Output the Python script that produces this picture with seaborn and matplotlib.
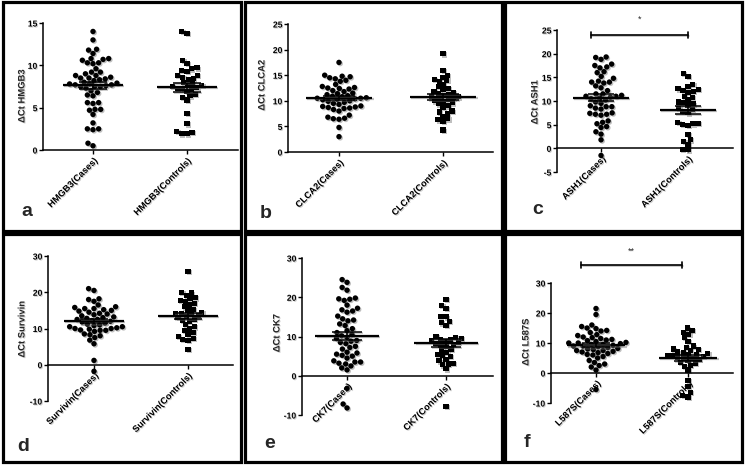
import numpy as np
import pandas as pd
import matplotlib
matplotlib.use("Agg")
import matplotlib.pyplot as plt
import matplotlib.patheffects as pe
import seaborn as sns
from matplotlib.patches import Rectangle

# ---------------- data ----------------
genes = ["HMGB3", "CLCA2", "ASH1", "Survivin", "CK7", "L587S"]
letters = ["a", "b", "c", "d", "e", "f"]

hmgb3_cases = [14.0, 13.0, 11.9, 11.8, 11.4, 10.8, 10.6, 10.3, 10.3, 10.7, 10.8, 10.2,
               9.6, 9.2, 9.2, 9.0, 8.8, 8.8, 8.6, 8.5, 8.5, 8.4, 8.3, 8.2, 8.0, 7.9,
               7.8, 7.8, 7.7, 7.7, 7.6, 7.5, 7.5, 7.5, 7.3, 7.0, 6.8, 6.5, 6.4, 5.6,
               5.6, 5.5, 4.8, 4.8, 4.7, 4.2, 3.2, 2.5, 2.4, 2.5, 0.8, 0.5]
hmgb3_controls = [14.0, 13.8, 10.6, 10.2, 9.6, 9.4, 9.3, 9.7, 8.8, 8.8, 8.6, 8.4, 8.3,
                  8.0, 7.8, 7.6, 7.6, 7.5, 7.4, 7.3, 7.3, 7.2, 6.9, 6.6, 6.4, 6.2,
                  5.9, 4.3, 3.1, 2.2, 2.1, 1.9, 1.9]

clca2_cases = [17.5, 15.0, 14.8, 14.7, 14.5, 14.3, 14.0, 13.8, 13.2, 12.8, 12.6, 12.5,
               12.4, 12.3, 12.0, 11.8, 11.5, 11.4, 11.2, 11.0, 10.9, 10.8, 10.6, 10.5,
               10.5, 10.4, 10.3, 10.2, 10.0, 9.9, 9.7, 9.5, 9.3, 9.0, 8.9, 8.8, 8.7,
               8.6, 8.5, 8.3, 8.0, 7.2, 6.8, 6.6, 6.5, 6.4, 4.8, 3.0]
clca2_controls = [19.2, 16.0, 15.0, 14.6, 14.2, 14.0, 13.8, 13.2, 12.8, 12.4, 12.2, 11.8,
                  11.6, 11.4, 11.2, 11.0, 10.8, 10.8, 10.6, 10.4, 10.2, 10.0, 9.8, 9.6,
                  9.4, 9.0, 8.8, 8.0, 7.8, 7.5, 7.0, 6.5, 6.3, 6.0, 4.3]

ash1_cases = [19.3, 19.2, 18.8, 17.8, 17.5, 17.2, 17.0, 16.2, 16.0, 15.2, 14.8, 14.2,
              14.0, 14.0, 13.8, 13.2, 12.8, 12.2, 11.5, 11.5, 11.2, 11.0, 11.0, 10.8,
              10.6, 10.5, 10.2, 9.8, 9.5, 9.0, 8.8, 8.8, 8.5, 8.3, 7.5, 7.4, 7.2, 7.2,
              7.0, 5.8, 5.5, 5.2, 4.6, 4.4, 3.5, 3.0, 1.8, -1.5]
ash1_controls = [15.8, 15.2, 13.5, 13.0, 12.6, 12.4, 12.2, 12.0, 11.8, 11.0, 10.8, 10.2,
                 9.8, 9.6, 9.4, 9.0, 8.5, 8.2, 7.8, 7.5, 5.5, 5.3, 5.2, 5.0, 4.8, 3.0,
                 1.8, 1.5, 0.8, -0.2, -0.3]

survivin_cases = [21.0, 20.5, 18.2, 18.0, 17.5, 16.5, 16.0, 15.8, 15.5, 15.5, 15.2, 15.0,
                  14.8, 14.5, 14.2, 14.0, 13.8, 13.5, 13.2, 13.0, 12.8, 12.5, 12.5, 12.2,
                  12.0, 11.8, 11.5, 11.2, 11.0, 10.8, 10.5, 10.5, 10.2, 10.0, 10.0, 9.8,
                  9.6, 9.5, 9.5, 9.2, 8.5, 8.3, 8.0, 7.5, 6.8, 5.8, 1.2, -1.8]
survivin_controls = [25.8, 20.0, 19.8, 19.2, 18.5, 18.2, 17.8, 17.5, 17.0, 16.5, 16.0,
                     15.2, 15.0, 14.5, 14.2, 14.0, 13.8, 13.5, 13.2, 13.0, 12.5, 12.2,
                     12.0, 11.0, 10.5, 10.0, 9.5, 9.0, 8.5, 7.8, 7.2, 7.0, 6.8, 4.2]

ck7_cases = [24.5, 23.8, 22.5, 21.8, 19.8, 19.6, 19.5, 19.2, 18.0, 17.2, 16.8, 16.5,
             16.2, 15.2, 14.5, 14.2, 14.0, 13.2, 12.8, 12.0, 11.5, 11.0, 10.5, 10.2,
             9.8, 9.5, 9.0, 8.8, 8.5, 8.2, 7.5, 7.2, 6.8, 6.0, 5.8, 5.5, 5.2, 5.0, 4.5,
             3.8, 3.5, 3.5, 3.2, 3.0, 2.5, 2.0, 1.5, -3.2, -7.2, -8.2]
ck7_controls = [19.5, 18.0, 17.2, 15.2, 15.0, 13.8, 13.5, 12.8, 10.0, 9.8, 9.5, 9.2, 9.2,
                9.0, 8.8, 8.5, 8.2, 8.0, 7.8, 7.5, 6.8, 6.5, 6.0, 5.5, 5.2, 5.0, 4.2,
                3.8, 3.2, 3.0, 2.8, 1.8, -7.8]

l587s_cases = [21.5, 19.5, 16.0, 15.5, 15.0, 14.8, 14.2, 14.0, 13.5, 12.8, 12.5, 12.0,
               11.8, 11.5, 11.2, 11.0, 10.8, 10.5, 10.2, 10.0, 10.0, 9.8, 9.5, 9.5, 9.2,
               9.0, 9.0, 8.8, 8.5, 8.2, 8.0, 7.8, 7.5, 7.5, 7.2, 7.0, 6.8, 6.5, 6.2, 6.0,
               5.5, 5.0, 4.2, 3.5, 3.0, 2.5, 2.0, 1.0, -5.5]
l587s_controls = [15.0, 14.2, 13.5, 12.8, 11.8, 10.5, 8.5, 7.8, 6.8, 9.0, 5.8, 8.0, 7.5,
                  7.0, 6.5, 6.2, 6.0, 5.8, 5.5, 5.2, 5.0, 4.8, 4.5, 4.2, 3.5, 3.2, 2.5,
                  2.2, 1.0, -2.5, -4.5, -6.5, -7.5, -8.0]

cases = [hmgb3_cases, clca2_cases, ash1_cases, survivin_cases, ck7_cases, l587s_cases]
controls = [hmgb3_controls, clca2_controls, ash1_controls, survivin_controls,
            ck7_controls, l587s_controls]

y_limits = [(0, 15), (0, 25), (-5, 25), (-10, 30), (-10, 30), (-10, 30)]
y_ticks = [[0, 5, 10, 15], [0, 5, 10, 15, 20, 25], [-5, 0, 5, 10, 15, 20, 25],
           [-10, 0, 10, 20, 30], [-10, 0, 10, 20, 30], [-10, 0, 10, 20, 30]]
significance = {"ASH1": "*", "L587S": "**"}

# ---------------- layout (pixels) ----------------
W, H = 750, 469
# left spine x, right end x, top y, bottom y
axes_px = [(43, 238, 23, 150), (288, 493, 24, 152), (557, 733, 30, 172),
           (48, 233, 256, 401), (302, 493, 258, 415), (551, 733, 283, 403)]
xlims = [(-0.532, 1.543), (-0.49, 1.48), (-0.506, 1.517),
         (-0.489, 1.479), (-0.455, 1.475), (-0.489, 1.489)]
ylabel_px = [(22, 96), (262, 85), (535, 102), (22, 329), (277, 333), (526, 342)]
letter_px = [(27, 211), (266, 214), (538, 210), (23, 446), (270, 443), (527, 442)]
frames_px = [(2.5, 2.5, 241, 231), (245, 2.5, 502, 231), (505, 2.5, 741.5, 231),
             (2.5, 234, 241, 461.5), (245, 234, 502, 461.5), (505, 234, 741.5, 461.5)]
sig_px = {"ASH1": (-0.12, 1.0, 24.0, 0.65, 27.2), "L587S": (-0.16, 0.93, 36.0, 1.0, 40.5)}

sns.set_theme(style="ticks")
plt.rcParams["font.family"] = ["Liberation Sans", "DejaVu Sans"]
plt.rcParams["axes.edgecolor"] = "black"

# soft drop shadows like the original figure
mark_fx = [pe.SimplePatchShadow(offset=(0.9, -0.9), shadow_rgbFace="0.45", alpha=0.45),
           pe.Normal()]
line_fx = [pe.SimpleLineShadow(offset=(0.9, -0.9), shadow_color="0.45", alpha=0.45),
           pe.Normal()]
text_fx = [pe.SimplePatchShadow(offset=(0.7, -0.7), shadow_rgbFace="0.5", alpha=0.4),
           pe.Normal()]

fig = plt.figure(figsize=(W / 100, H / 100), dpi=100)
fig.patch.set_facecolor("white")

for i, gene in enumerate(genes):
    l, r, t, b = axes_px[i]
    ax = fig.add_axes([l / W, 1 - b / H, (r - l) / W, (b - t) / H])
    ax.set_facecolor("none")
    cats = [f"{gene}(Cases)", f"{gene}(Controls)"]
    ax.set_ylim(*y_limits[i])
    ax.set_xlim(*xlims[i])
    sns.swarmplot(x=[cats[0]] * len(cases[i]), y=cases[i], order=cats, marker="o",
                  color="black", size=3.9, ax=ax, zorder=2)
    sns.swarmplot(x=[cats[1]] * len(controls[i]), y=controls[i], order=cats, marker="s",
                  color="black", size=3.7, ax=ax, zorder=2)
    for coll in ax.collections:
        coll.set_path_effects(mark_fx)
    for j, vals in enumerate([cases[i], controls[i]]):
        v = np.asarray(vals)
        m = v.mean()
        se = v.std(ddof=1) / np.sqrt(len(v))
        ax.hlines(m, j - 0.32, j + 0.32, color="black", lw=1.6, zorder=4,
                  path_effects=line_fx)
        ax.hlines([m - se, m + se], j - 0.15, j + 0.15, color="black", lw=1.1, zorder=4,
                  path_effects=line_fx)
        ax.vlines(j, m - se, m + se, color="black", lw=1.1, zorder=4)
    # spines first (set_position resets the ticks)
    ax.spines["top"].set_visible(False)
    ax.spines["right"].set_visible(False)
    ax.spines["bottom"].set_position(("data", 0))
    ax.spines["bottom"].set_linewidth(1.1)
    ax.spines["left"].set_linewidth(1.1)
    ax.set_ylim(*y_limits[i])
    ax.set_xlim(*xlims[i])
    ax.tick_params(axis="both", direction="out", length=3, width=1.0, colors="black")
    ax.tick_params(axis="y", pad=1)
    ax.tick_params(axis="x", pad=1.5)
    ax.set_yticks(y_ticks[i])
    ax.set_yticklabels([str(v) for v in y_ticks[i]], fontsize=6.2, fontweight="bold")
    ax.set_xticks([0, 1])
    ax.set_xticklabels(cats, rotation=45, ha="right", rotation_mode="anchor",
                       fontsize=6.6, fontweight="bold")
    for lab in ax.get_xticklabels() + ax.get_yticklabels():
        lab.set_path_effects(text_fx)
    ax.set_xlabel("")
    ax.set_ylabel(f"ΔCt {gene}", fontsize=6.8, fontweight="bold", va="center")
    ax.yaxis.label.set_path_effects(text_fx)
    ax.yaxis.set_label_coords(ylabel_px[i][0] / W, 1 - ylabel_px[i][1] / H,
                              transform=fig.transFigure)
    if gene in significance:
        x0, x1, yb, cap, ys = sig_px[gene]
        ax.plot([x0, x1], [yb, yb], color="black", lw=1.2, clip_on=False,
                path_effects=line_fx)
        ax.plot([x0, x0], [yb - cap, yb + cap], color="black", lw=1.2, clip_on=False)
        ax.plot([x1, x1], [yb - cap, yb + cap], color="black", lw=1.2, clip_on=False)
        ax.text((x0 + x1) / 2, ys, significance[gene], ha="center", va="center",
                fontsize=6.5, clip_on=False)
    lx, ly = letter_px[i]
    fig.text(lx / W, 1 - ly / H, letters[i], fontsize=14, fontweight="bold",
             ha="center", va="center")

for (x0, y0, x1, y1) in frames_px:
    fig.patches.append(Rectangle((x0 / W, 1 - y1 / H), (x1 - x0) / W, (y1 - y0) / H,
                                 transform=fig.transFigure, fill=False,
                                 edgecolor="black", lw=2.3, zorder=10))

fig.savefig("out.png", dpi=100, facecolor="white")
